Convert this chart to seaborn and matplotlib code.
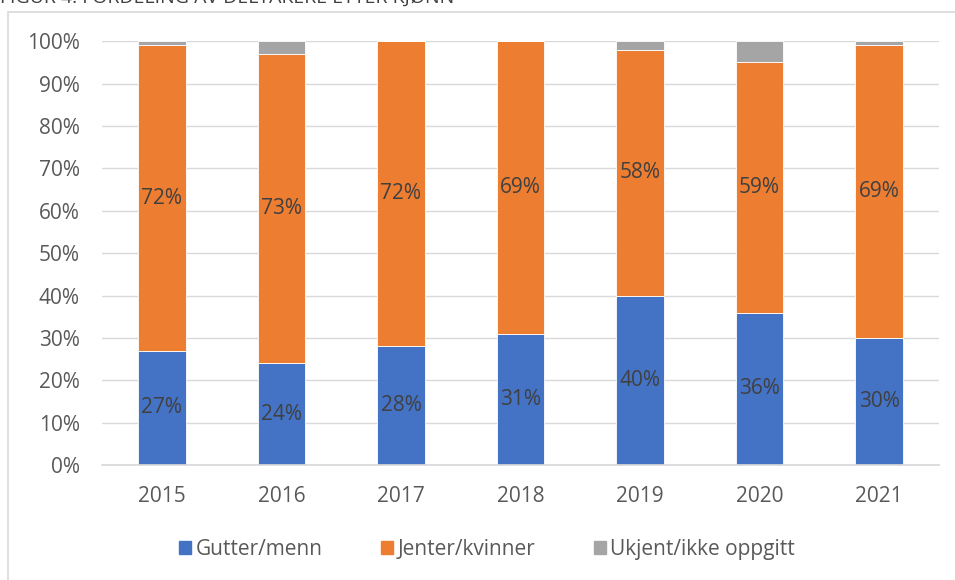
import matplotlib
matplotlib.use("Agg")
import matplotlib.pyplot as plt
import matplotlib.patches as mpatches
import pandas as pd
import seaborn as sns

years = ["2015", "2016", "2017", "2018", "2019", "2020", "2021"]
gutter = [27, 24, 28, 31, 40, 36, 30]
jenter = [72, 73, 72, 69, 58, 59, 69]
ukjent = [1, 3, 0, 0, 2, 5, 1]
series_names = ["Gutter/menn", "Jenter/kvinner", "Ukjent/ikke oppgitt"]
colors = ["#4472C4", "#ED7D31", "#A5A5A5"]
title = "FIGUR 4: FORDELING AV DELTAKERE ETTER KJØNN"

sns.set_theme(style="white")
plt.rcParams["font.family"] = ["Open Sans", "DejaVu Sans"]

df = pd.DataFrame({"year": years, "gutter": gutter, "jenter": jenter, "ukjent": ukjent})

fig = plt.figure(figsize=(9.55, 5.8), dpi=100)
ax = fig.add_axes([0.107, 0.198, 0.876, 0.731])

bottom = [0] * len(years)
for col, name, color in zip(["gutter", "jenter", "ukjent"], series_names, colors):
    sns.barplot(data=df, x="year", y=col, bottom=bottom, color=color, width=0.4, saturation=1,
                edgecolor="white", linewidth=0.6, ax=ax, label=name)
    bottom = [b + v for b, v in zip(bottom, df[col])]

for cont in ax.containers[:2]:
    ax.bar_label(cont, labels=[f"{v:.0f}%" for v in cont.datavalues], label_type="center",
                 color="#404040", fontsize=15)

ax.set_ylim(0, 100)
ax.set_xlim(-0.5, 6.5)
ax.set_yticks(range(0, 101, 10))
ax.set_yticklabels([f"{v}%" for v in range(0, 101, 10)])
ax.set_xlabel("")
ax.set_ylabel("")
ax.tick_params(axis="both", length=0, labelsize=15, colors="#595959")
ax.tick_params(axis="y", pad=16)
ax.tick_params(axis="x", pad=15)
ax.yaxis.grid(True, color="#D9D9D9", linewidth=1)
ax.set_axisbelow(True)
for s in ["top", "right", "left"]:
    ax.spines[s].set_visible(False)
ax.spines["bottom"].set_color("#D9D9D9")
if ax.get_legend():
    ax.get_legend().remove()

handles = [mpatches.Patch(color=c, label=n) for c, n in zip(colors, series_names)]
fig.legend(handles=handles, loc="center", bbox_to_anchor=(0.51, 0.053), ncol=3, frameon=False,
           fontsize=15, handlelength=0.6, handleheight=0.6, handletextpad=0.2, columnspacing=2.8,
           labelcolor="#595959")

fig.patches.append(mpatches.Rectangle((0.008, -0.01), 1.0, 0.99, transform=fig.transFigure,
                                      fill=False, edgecolor="#D9D9D9", linewidth=1.2))
fig.text(0.0, 0.996, title, fontsize=14, color="#404040", va="baseline", ha="left")

fig.savefig("out.png", dpi=100)
